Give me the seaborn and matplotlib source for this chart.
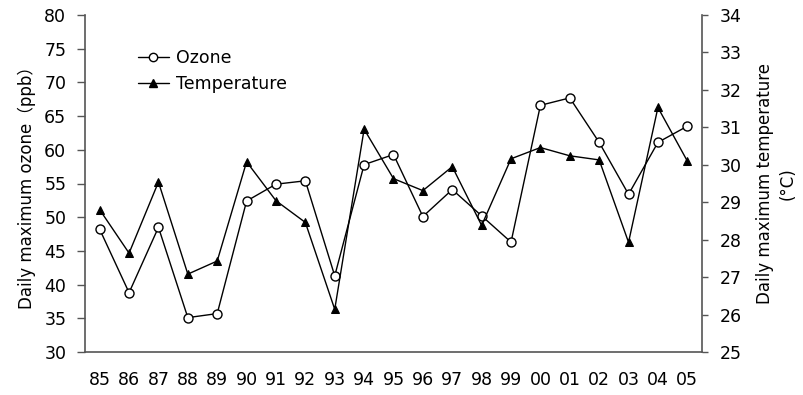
import matplotlib
matplotlib.use("Agg")
import matplotlib.pyplot as plt
import seaborn as sns
import numpy as np
import pandas as pd
from matplotlib.lines import Line2D

years = ["85", "86", "87", "88", "89", "90", "91", "92", "93", "94", "95",
         "96", "97", "98", "99", "00", "01", "02", "03", "04", "05"]
ozone = [48.2, 38.8, 48.5, 35.1, 35.7, 52.4, 54.9, 55.4, 41.3, 57.8, 59.3,
         50.1, 54.1, 50.2, 46.3, 66.6, 67.7, 61.1, 53.4, 61.1, 63.5]
temperature = [28.8, 27.64, 29.54, 27.08, 27.43, 30.08, 29.04, 28.46, 26.14, 30.95, 29.63,
               29.31, 29.95, 28.38, 30.16, 30.46, 30.24, 30.13, 27.93, 31.53, 30.10]
ozone_ticks = [30, 35, 40, 45, 50, 55, 60, 65, 70, 75, 80]
temp_ticks = [25, 26, 27, 28, 29, 30, 31, 32, 33, 34]

sns.set_style("white")
plt.rcParams['font.family'] = ['DejaVu Sans', 'Noto Sans CJK JP']
plt.rcParams['text.color'] = 'black'
plt.rcParams['axes.labelcolor'] = 'black'
plt.rcParams['xtick.color'] = 'black'
plt.rcParams['ytick.color'] = 'black'

df = pd.DataFrame({"pos": np.arange(len(years)), "ozone": ozone, "temp": temperature})

fig = plt.figure(figsize=(8.04, 3.95), dpi=100)
ax = fig.add_axes([85/804, 1-352/395, (702-85)/804, (352-15)/395])
ax2 = ax.twinx()

sns.lineplot(data=df, x="pos", y="ozone", ax=ax, color="black", lw=1,
             marker="o", markersize=6.5, markerfacecolor="white",
             markeredgecolor="black", markeredgewidth=1)
sns.lineplot(data=df, x="pos", y="temp", ax=ax2, color="black", lw=1,
             marker="^", markersize=6, markerfacecolor="black",
             markeredgecolor="black")

n = len(years)
ax.set_xlim(-0.5, n - 0.5)
ax.set_ylim(30, 80)
ax2.set_ylim(25, 34)
ax.set_yticks(ozone_ticks)
ax2.set_yticks(temp_ticks)

ax.set_xticks(np.arange(-0.5, n, 1.0))
ax.set_xticklabels([])
ax.set_xticks(np.arange(n), minor=True)
ax.set_xticklabels(years, minor=True)
axis_col = "#555555"
ax.tick_params(axis="x", which="major", direction="out", length=6, width=1, color=axis_col)
ax.tick_params(axis="x", which="minor", length=0, pad=14, labelsize=12.5, labelcolor="black")
ax.tick_params(axis="y", direction="out", length=5.5, width=1, color=axis_col,
               labelsize=12.5, pad=8, labelcolor="black")
ax2.tick_params(axis="y", direction="out", length=4, width=1, color=axis_col,
                labelsize=12.5, pad=9, labelcolor="black")

for a in (ax, ax2):
    for s in a.spines.values():
        s.set_visible(False)
    a.set_xlabel("")
ax.spines["left"].set_visible(True)
ax.spines["bottom"].set_visible(True)
ax2.spines["right"].set_visible(True)
for s in (ax.spines["left"], ax.spines["bottom"], ax2.spines["right"]):
    s.set_color(axis_col)
    s.set_linewidth(1.2)

ax.set_ylabel("Daily maximum ozone（ppb）", fontsize=12, labelpad=6, color="black")
ax2.set_ylabel("Daily maximum temperature\n(°C)", fontsize=12, labelpad=10,
               linespacing=1.3, color="black")
ax.grid(False)
ax2.grid(False)

handles = [
    Line2D([], [], color="black", lw=1, marker="o", markersize=6,
           markerfacecolor="white", markeredgecolor="black"),
    Line2D([], [], color="black", lw=1, marker="^", markersize=5.5,
           markerfacecolor="black", markeredgecolor="black"),
]
leg = ax.legend(handles, ["Ozone", "Temperature"], loc="upper left",
                bbox_to_anchor=(0.06, 0.945), frameon=False, fontsize=12.5,
                handlelength=1.8, handletextpad=0.4, labelspacing=0.45)
for t in leg.get_texts():
    t.set_color("black")

fig.savefig("out.png", dpi=100)
